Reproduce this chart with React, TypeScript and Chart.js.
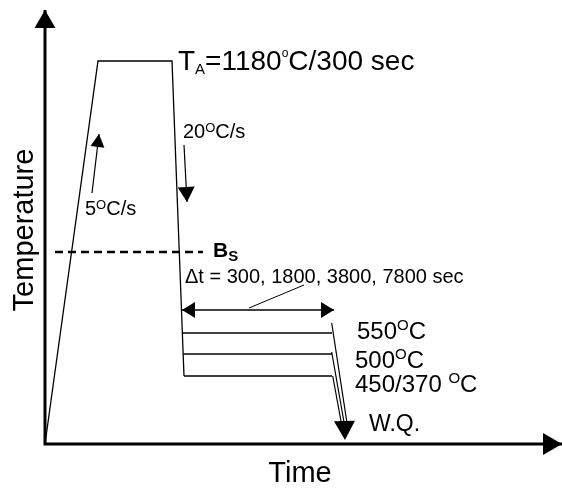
import React, { useEffect, useRef } from "react";
import { Chart, registerables } from "chart.js";

Chart.register(...registerables);

const FONT = '"Liberation Sans", Arial, Helvetica, sans-serif';

// Schematic units: x = time, y = temperature (origin at the axes' corner)
const xRange = [-45, 517];
const yRange = [-45, 444];

// Axes (drawn as arrows)
const axisTime = [0, 0, 517];
const axisTemp = [434, 0, 0];

// Thermal cycle: heating 5°C/s, hold at T_A, cooling 20°C/s
const cycleTime = [0, 53, 127, 139];
const cycleTemp = [0, 383, 383, 68];

// Isothermal holds (550, 500, 450/370 °C)
const holdTemp = [111, 90, 68];
const holdStart = [137.4, 138.2, 139];
const holdEnd = [287, 287, 287];

// Water quench lines
const quenchStartTime = [286.7, 286.7, 287.7];
const quenchStartTemp = [121, 92, 68];
const quenchEndTime = [302.3, 299.5, 296.7];
const quenchEndTemp = [19, 19, 19];
const quenchHeadTime = [299.5, 300];
const quenchHeadTemp = [22, 4];

// Bs dashed line
const bsTime = [10, 158];
const bsTemp = [192, 192];

// Δt double arrow and its leader
const dtTime = [137, 289];
const dtTemp = [134, 134];
const leaderTime = [204, 259];
const leaderTemp = [136, 159];

// Rate arrows
const heatArrowTime = [47, 54];
const heatArrowTemp = [251, 310];
const coolArrowTime = [139, 142];
const coolArrowTemp = [299, 242];

type Seg = { t: string; size: number; dy?: number; bold?: boolean };
type Label = { x: number; y: number; segs: Seg[]; align?: "left" | "center"; rotate?: boolean };

const labels: Label[] = [
  {
    x: 133, y: 374,
    segs: [
      { t: "T", size: 28 }, { t: "A", size: 15, dy: 4 }, { t: "=1180", size: 28 },
      { t: "o", size: 12, dy: -13 }, { t: "C/300 sec", size: 28 },
    ],
  },
  { x: 138, y: 306, segs: [{ t: "20", size: 20 }, { t: "O", size: 13, dy: -6 }, { t: "C/s", size: 20 }] },
  { x: 40, y: 229, segs: [{ t: "5", size: 20 }, { t: "O", size: 13, dy: -6 }, { t: "C/s", size: 20 }] },
  { x: 168, y: 187, segs: [{ t: "B", size: 21, bold: true }, { t: "S", size: 15, bold: true, dy: 4 }] },
  { x: 140, y: 161, segs: [{ t: "\u0394t = 300, 1800, 3800, 7800 sec", size: 20 }] },
  { x: 312, y: 105, segs: [{ t: "550", size: 24 }, { t: "O", size: 15, dy: -9 }, { t: "C", size: 24 }] },
  { x: 310, y: 76, segs: [{ t: "500", size: 24 }, { t: "O", size: 15, dy: -9 }, { t: "C", size: 24 }] },
  { x: 310, y: 52, segs: [{ t: "450/370 ", size: 24 }, { t: "O", size: 15, dy: -9 }, { t: "C", size: 24 }] },
  { x: 324, y: 13, segs: [{ t: "W.Q.", size: 23 }] },
  { x: 255, y: -38, align: "center", segs: [{ t: "Time", size: 29 }] },
  { x: -12, y: 214, align: "center", rotate: true, segs: [{ t: "Temperature", size: 29 }] },
];

function pts(xs: number[], ys: number[]) {
  return xs.map((x, i) => ({ x, y: ys[i] }));
}

function line(data: { x: number; y: number }[], width: number, extra: any = {}) {
  return {
    data,
    showLine: true,
    borderColor: "#000",
    backgroundColor: "#000",
    borderWidth: width,
    pointRadius: 0,
    pointHoverRadius: 0,
    fill: false,
    clip: false,
    tension: 0,
    ...extra,
  };
}

function segFont(s: Seg) {
  return `${s.bold ? "bold " : ""}${s.size}px ${FONT}`;
}

function drawRich(ctx: CanvasRenderingContext2D, x: number, y: number, segs: Seg[], align: string) {
  let total = 0;
  for (const s of segs) {
    ctx.font = segFont(s);
    total += ctx.measureText(s.t).width;
  }
  let cx = align === "center" ? x - total / 2 : x;
  for (const s of segs) {
    ctx.font = segFont(s);
    ctx.fillText(s.t, cx, y + (s.dy || 0));
    cx += ctx.measureText(s.t).width;
  }
}

function triangle(ctx: CanvasRenderingContext2D, tip: { x: number; y: number }, from: { x: number; y: number }, len: number, width: number) {
  const dx = tip.x - from.x;
  const dy = tip.y - from.y;
  const d = Math.hypot(dx, dy) || 1;
  const ux = dx / d, uy = dy / d;
  const bx = tip.x - ux * len, by = tip.y - uy * len;
  const nx = -uy * width / 2, ny = ux * width / 2;
  ctx.beginPath();
  ctx.moveTo(tip.x, tip.y);
  ctx.lineTo(bx + nx, by + ny);
  ctx.lineTo(bx - nx, by - ny);
  ctx.closePath();
  ctx.fill();
}

const arrowPlugin = {
  id: "arrowHeads",
  afterDatasetsDraw(chart: any) {
    const ctx = chart.ctx as CanvasRenderingContext2D;
    const xs = chart.scales.x, ys = chart.scales.y;
    ctx.save();
    ctx.fillStyle = "#000";
    chart.data.datasets.forEach((ds: any) => {
      const p = ds.data.map((q: any) => ({ x: xs.getPixelForValue(q.x), y: ys.getPixelForValue(q.y) }));
      if (ds.arrowEnd) triangle(ctx, p[p.length - 1], p[p.length - 2], ds.arrowEnd[0], ds.arrowEnd[1]);
      if (ds.arrowStart) triangle(ctx, p[0], p[1], ds.arrowStart[0], ds.arrowStart[1]);
    });
    ctx.restore();
  },
};

const textPlugin = {
  id: "schematicText",
  afterDraw(chart: any) {
    const ctx = chart.ctx as CanvasRenderingContext2D;
    const xs = chart.scales.x, ys = chart.scales.y;
    ctx.save();
    ctx.fillStyle = "#000";
    ctx.textBaseline = "alphabetic";
    ctx.textAlign = "left";
    for (const l of labels) {
      const px = xs.getPixelForValue(l.x);
      const py = ys.getPixelForValue(l.y);
      if (l.rotate) {
        ctx.save();
        ctx.translate(px, py);
        ctx.rotate(-Math.PI / 2);
        drawRich(ctx, 0, 0, l.segs, l.align || "left");
        ctx.restore();
      } else {
        drawRich(ctx, px, py, l.segs, l.align || "left");
      }
    }
    ctx.restore();
  },
};

export default function App() {
  const ref = useRef<HTMLCanvasElement | null>(null);
  useEffect(() => {
    if (!ref.current) return;
    const datasets: any[] = [
      line(pts(axisTime, axisTemp), 3, { arrowStart: [18, 21], arrowEnd: [19, 22] }),
      line(pts(cycleTime, cycleTemp), 1.3),
      ...holdTemp.map((t, i) => line(pts([holdStart[i], holdEnd[i]], [t, t]), 1.3)),
      ...quenchStartTime.map((t, i) =>
        line(pts([t, quenchEndTime[i]], [quenchStartTemp[i], quenchEndTemp[i]]), 1.2)
      ),
      line(pts(quenchHeadTime, quenchHeadTemp), 0, { showLine: false, arrowEnd: [19, 21] }),
      line(pts(bsTime, bsTemp), 2.5, { borderDash: [8, 5] }),
      line(pts(dtTime, dtTemp), 1.3, { arrowStart: [13, 16], arrowEnd: [13, 16] }),
      line(pts(leaderTime, leaderTemp), 1),
      line(pts(heatArrowTime, heatArrowTemp), 1.2, { arrowEnd: [13, 14] }),
      line(pts(coolArrowTime, coolArrowTemp), 1.2, { arrowEnd: [15, 17] }),
    ];
    const chart = new Chart(ref.current, {
      type: "scatter",
      data: { datasets },
      options: {
        responsive: false,
        animation: false,
        events: [],
        layout: { padding: 0, autoPadding: false } as any,
        plugins: { legend: { display: false }, tooltip: { enabled: false } },
        scales: {
          x: { type: "linear", min: xRange[0], max: xRange[1], display: false },
          y: { type: "linear", min: yRange[0], max: yRange[1], display: false },
        },
      },
      plugins: [arrowPlugin, textPlugin],
    } as any);
    return () => chart.destroy();
  }, []);
  return (
    <div style={{ position: "absolute", left: 0, top: 0, width: 562, height: 489, background: "#fff" }}>
      <canvas ref={ref} width={562} height={489} style={{ display: "block" }} />
    </div>
  );
}
